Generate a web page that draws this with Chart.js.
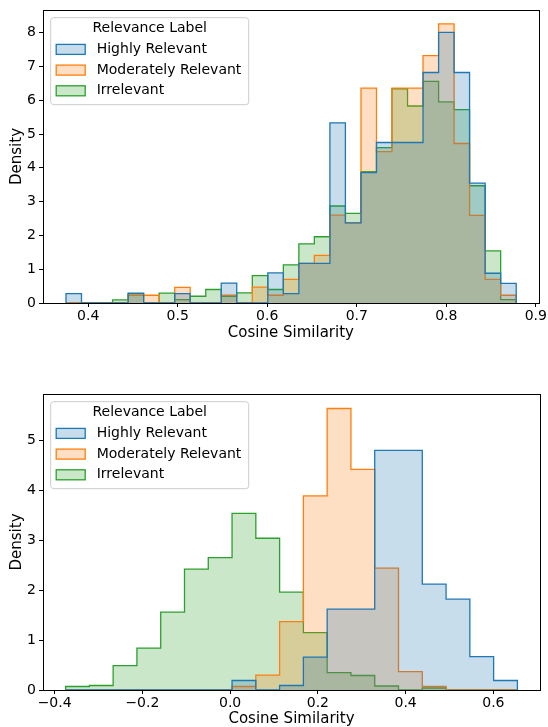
<!DOCTYPE html>
<html>
<head>
<meta charset="utf-8">
<script src="https://cdn.jsdelivr.net/npm/chart.js@4.4.1/dist/chart.umd.min.js"></script>
<style>
  body { margin: 0; background: #fff; }
  #wrap { position: relative; width: 548px; height: 727px; }
  #topChart { position: absolute; left: 0; top: 0; }
  #bottomChart { position: absolute; left: 0; top: 345px; }
</style>
</head>
<body>
<div id="wrap">
  <canvas id="topChart" width="548" height="345"></canvas>
  <canvas id="bottomChart" width="548" height="382"></canvas>
</div>
<script>
const seriesLabels = ['Highly Relevant', 'Moderately Relevant', 'Irrelevant'];
const lineColors = ['#1f77b4', '#ff7f0e', '#2ca02c'];
const fillColors = ['rgba(31,119,180,0.25)', 'rgba(255,127,14,0.25)', 'rgba(44,160,44,0.25)'];

// top panel
const topBinEdges = [0.3752, 0.3925, 0.4099, 0.4272, 0.4446, 0.4619, 0.4792, 0.4966, 0.5139, 0.5313,
  0.5486, 0.5659, 0.5833, 0.6006, 0.6180, 0.6353, 0.6526, 0.6700, 0.6873, 0.7047,
  0.7220, 0.7393, 0.7567, 0.7740, 0.7914, 0.8087, 0.8260, 0.8434, 0.8607, 0.8781];
const topHighly = [0.28, 0, 0, 0, 0.29, 0, 0, 0.28, 0, 0,
  0.59, 0, 0, 0.89, 0.28, 1.17, 1.17, 5.33, 2.37, 3.86,
  4.75, 4.75, 4.75, 6.82, 8.01, 6.82, 3.55, 0.88, 0.58];
const topModerately = [0, 0, 0, 0, 0.23, 0.23, 0, 0.46, 0, 0,
  0.23, 0, 0.47, 0.23, 0.70, 1.17, 1.41, 2.60, 2.37, 6.36,
  4.48, 6.36, 6.36, 7.32, 8.26, 4.72, 2.59, 0.70, 0.23];
const topIrrelevant = [0, 0, 0, 0.09, 0.28, 0, 0.29, 0.10, 0.20, 0.40,
  0.20, 0.30, 0.81, 0.40, 1.13, 1.75, 1.96, 2.87, 2.65, 3.89,
  4.60, 6.34, 5.83, 6.56, 5.95, 5.72, 3.47, 1.54, 0.10];
const topXTicks = [0.4, 0.5, 0.6, 0.7, 0.8, 0.9];
const topXTickLabels = ['0.4', '0.5', '0.6', '0.7', '0.8', '0.9'];
const topYTicks = [0, 1, 2, 3, 4, 5, 6, 7, 8];

// bottom panel
const bottomBinEdges = [-0.375, -0.3208, -0.2666, -0.2124, -0.1582, -0.1040, -0.0498, 0.0044, 0.0586, 0.1128,
  0.1670, 0.2212, 0.2754, 0.3296, 0.3838, 0.4380, 0.4922, 0.5464, 0.6006, 0.6548];
const bottomHighly = [0, 0, 0, 0, 0, 0, 0, 0.19, 0, 0.09,
  0.66, 1.62, 1.62, 4.80, 4.80, 2.12, 1.82, 0.67, 0.19];
const bottomModerately = [0, 0, 0, 0, 0, 0, 0, 0.07, 0.30, 1.37,
  3.89, 5.64, 4.42, 2.44, 0.37, 0.07, 0, 0, 0];
const bottomIrrelevant = [0.07, 0.09, 0.49, 0.84, 1.56, 2.42, 2.65, 3.54, 3.04, 1.96,
  1.15, 0.35, 0.29, 0.08, 0, 0.04, 0, 0, 0];
const bottomXTicks = [-0.4, -0.2, 0.0, 0.2, 0.4, 0.6];
const bottomXTickLabels = ['\u22120.4', '\u22120.2', '0.0', '0.2', '0.4', '0.6'];
const bottomYTicks = [0, 1, 2, 3, 4, 5];

const FONT = 'DejaVu Sans';
Chart.defaults.color = '#000';
Chart.defaults.font.family = FONT;

// outline of a step histogram: up at first edge, across each bin, down at last edge
function stepPoints(edges, values) {
  const pts = [{ x: edges[0], y: 0 }];
  values.forEach((v, i) => pts.push({ x: edges[i], y: v }));
  pts.push({ x: edges[edges.length - 1], y: 0 });
  return pts;
}

const frameBox = {
  id: 'frameBox',
  afterDatasetsDraw(chart) {
    const { ctx, chartArea: a } = chart;
    ctx.save();
    ctx.strokeStyle = '#000';
    ctx.lineWidth = 1;
    ctx.strokeRect(Math.round(a.left) + 0.5, Math.round(a.top) + 0.5,
      Math.round(a.right - a.left), Math.round(a.bottom - a.top));
    ctx.restore();
  }
};

const histLegend = {
  id: 'histLegend',
  afterDraw(chart, args, opts) {
    const { ctx, chartArea: a } = chart;
    const x0 = a.left + 7.7, y0 = a.top + 7.7, w = 198, h = 87;
    ctx.save();
    ctx.beginPath();
    ctx.roundRect(x0, y0, w, h, 3);
    ctx.fillStyle = 'rgba(255,255,255,0.8)';
    ctx.fill();
    ctx.strokeStyle = '#cccccc';
    ctx.lineWidth = 1;
    ctx.stroke();
    ctx.font = '14px "' + FONT + '"';
    ctx.textBaseline = 'middle';
    ctx.textAlign = 'center';
    ctx.fillStyle = '#000';
    ctx.fillText(opts.title, x0 + w / 2, y0 + 11);
    ctx.textAlign = 'left';
    chart.data.datasets.forEach((ds, i) => {
      const cy = y0 + 31.7 + i * 20.7;
      ctx.fillStyle = ds.backgroundColor;
      ctx.fillRect(x0 + 5.5, cy - 5, 29, 10);
      ctx.strokeStyle = ds.borderColor;
      ctx.lineWidth = 1.3;
      ctx.strokeRect(x0 + 5.5, cy - 5, 29, 10);
      ctx.fillStyle = '#000';
      ctx.fillText(ds.label, x0 + 46, cy);
    });
    ctx.restore();
  }
};

function makeHist(canvasId, edges, series, cfg) {
  const datasets = series.map((vals, i) => ({
    label: seriesLabels[i],
    data: stepPoints(edges, vals),
    borderColor: lineColors[i],
    backgroundColor: fillColors[i],
    borderWidth: 1.3,
    fill: 'origin',
    stepped: true,
    pointRadius: 0,
    tension: 0
  }));

  return new Chart(document.getElementById(canvasId), {
    type: 'line',
    data: { datasets: datasets },
    plugins: [frameBox, histLegend],
    options: {
      responsive: false,
      animation: false,
      devicePixelRatio: 1,
      layout: { padding: cfg.padding },
      plugins: {
        legend: { display: false },
        tooltip: { enabled: false },
        histLegend: { title: 'Relevance Label' }
      },
      scales: {
        x: {
          type: 'linear',
          min: cfg.xMin,
          max: cfg.xMax,
          afterBuildTicks: s => { s.ticks = cfg.xTicks.map(v => ({ value: v })); },
          afterFit: s => { s.height = cfg.xAxisHeight; },
          ticks: {
            autoSkip: false,
            maxRotation: 0,
            padding: 1,
            font: { size: 14 },
            callback: (v, i) => cfg.xTickLabels[i]
          },
          grid: { display: true, drawOnChartArea: false, drawTicks: true, tickLength: 4, color: '#000' },
          border: { display: false },
          title: { display: true, text: 'Cosine Similarity', font: { size: 15, lineHeight: 1 }, padding: 0 }
        },
        y: {
          type: 'linear',
          min: 0,
          max: cfg.yMax,
          afterBuildTicks: s => { s.ticks = cfg.yTicks.map(v => ({ value: v })); },
          afterFit: s => { s.width = 43; },
          ticks: { padding: 3, font: { size: 14, lineHeight: 1 }, callback: v => String(v) },
          grid: { display: true, drawOnChartArea: false, drawTicks: true, tickLength: 4, color: '#000' },
          border: { display: false },
          title: { display: true, text: 'Density', font: { size: 15, lineHeight: 1 }, padding: { top: 10, bottom: 0 } }
        }
      }
    }
  });
}

makeHist('topChart', topBinEdges, [topHighly, topModerately, topIrrelevant], {
  padding: { left: 0, right: 8, top: 7, bottom: 4 },
  xMin: 0.3495, xMax: 0.9033, yMax: 8.67,
  xTicks: topXTicks, xTickLabels: topXTickLabels, yTicks: topYTicks,
  xAxisHeight: 38
});

makeHist('bottomChart', bottomBinEdges, [bottomHighly, bottomModerately, bottomIrrelevant], {
  padding: { left: 0, right: 8, top: 49, bottom: 0 },
  xMin: -0.4265, xMax: 0.7063, yMax: 5.93,
  xTicks: bottomXTicks, xTickLabels: bottomXTickLabels, yTicks: bottomYTicks,
  xAxisHeight: 37
});
</script>
</body>
</html>
